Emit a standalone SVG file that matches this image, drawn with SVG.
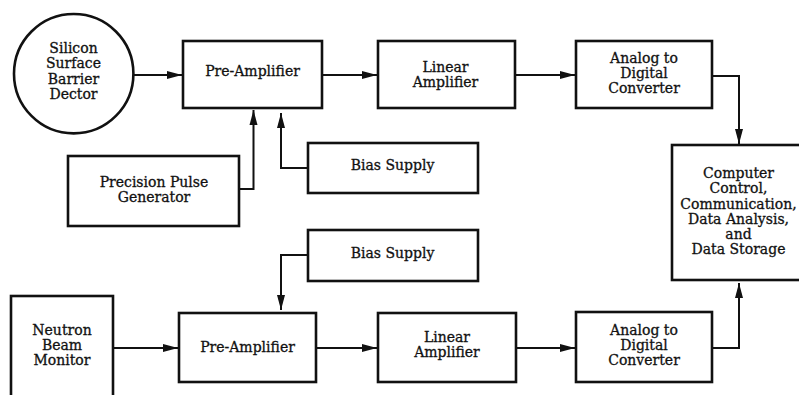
<svg xmlns="http://www.w3.org/2000/svg" width="799" height="395" viewBox="0 0 799 395">
  <defs>
    <style>
      .box { fill: #fff; stroke: #111; stroke-width: 2.6; }
      .wire { fill: none; stroke: #111; stroke-width: 2; }
      .lbl { font-family: "DejaVu Serif", "Liberation Serif", serif; font-size: 14px; fill: #111; stroke: #111; stroke-width: 0.3; text-anchor: middle; }
    </style>
    <marker id="arrow" markerUnits="userSpaceOnUse" markerWidth="16" markerHeight="9" refX="15" refY="4.5" orient="auto">
      <path d="M0,0.5 L15,4.5 L0,8.5 Z" fill="#111"/>
    </marker>
  </defs>
  <rect width="799" height="395" fill="#fff"/>

  <!-- connectors -->
  <g id="connectors">
    <line class="wire" x1="133" y1="75" x2="182" y2="75" marker-end="url(#arrow)"/>
    <line class="wire" x1="322" y1="75" x2="377" y2="75" marker-end="url(#arrow)"/>
    <line class="wire" x1="515" y1="75" x2="575" y2="75" marker-end="url(#arrow)"/>
    <polyline class="wire" points="712,76 739,76 739,144" marker-end="url(#arrow)"/>
    <polyline class="wire" points="239,189 253.5,189 253.5,110" marker-end="url(#arrow)"/>
    <polyline class="wire" points="307,168 281,168 281,113" marker-end="url(#arrow)"/>

    <line class="wire" x1="113" y1="348" x2="178" y2="348" marker-end="url(#arrow)"/>
    <line class="wire" x1="316" y1="348" x2="377" y2="348" marker-end="url(#arrow)"/>
    <line class="wire" x1="516" y1="348" x2="575" y2="348" marker-end="url(#arrow)"/>
    <polyline class="wire" points="307,255 281,255 281,310" marker-end="url(#arrow)"/>
    <polyline class="wire" points="712,348 739,348 739,283" marker-end="url(#arrow)"/>
  </g>

  <!-- upper chain -->
  <g id="detector">
    <circle class="box" cx="73.7" cy="73.7" r="59.7"/>
    <text class="lbl" x="73.5" y="53">Silicon</text>
    <text class="lbl" x="73.5" y="68">Surface</text>
    <text class="lbl" x="73.5" y="83.5">Barrier</text>
    <text class="lbl" x="73.5" y="99">Dector</text>
  </g>
  <g id="preamp-top">
    <rect class="box" x="183" y="41" width="139" height="67"/>
    <text class="lbl" x="252.5" y="76">Pre-Amplifier</text>
  </g>
  <g id="linamp-top">
    <rect class="box" x="378" y="41" width="137" height="67"/>
    <text class="lbl" x="445.5" y="72">Linear</text>
    <text class="lbl" x="445.5" y="87">Amplifier</text>
  </g>
  <g id="adc-top">
    <rect class="box" x="576" y="41" width="136" height="67"/>
    <text class="lbl" x="644" y="63">Analog to</text>
    <text class="lbl" x="644" y="78">Digital</text>
    <text class="lbl" x="644" y="93">Converter</text>
  </g>
  <g id="pulser">
    <rect class="box" x="68" y="156" width="171" height="70"/>
    <text class="lbl" x="154" y="187">Precision Pulse</text>
    <text class="lbl" x="154" y="202">Generator</text>
  </g>
  <g id="bias-top">
    <rect class="box" x="308" y="143" width="170" height="50"/>
    <text class="lbl" x="392.5" y="170">Bias Supply</text>
  </g>

  <!-- computer -->
  <g id="computer">
    <rect class="box" x="672" y="145" width="140" height="135"/>
    <text class="lbl" x="738.5" y="178">Computer</text>
    <text class="lbl" x="738.5" y="193">Control,</text>
    <text class="lbl" x="738.5" y="209">Communication,</text>
    <text class="lbl" x="738.5" y="224">Data Analysis,</text>
    <text class="lbl" x="738.5" y="239">and</text>
    <text class="lbl" x="738.5" y="254">Data Storage</text>
  </g>

  <!-- lower chain -->
  <g id="bias-bottom">
    <rect class="box" x="308" y="230" width="170" height="51"/>
    <text class="lbl" x="392.5" y="258">Bias Supply</text>
  </g>
  <g id="monitor">
    <rect class="box" x="11" y="296" width="102" height="110"/>
    <text class="lbl" x="62" y="335">Neutron</text>
    <text class="lbl" x="62" y="350">Beam</text>
    <text class="lbl" x="62" y="365">Monitor</text>
  </g>
  <g id="preamp-bottom">
    <rect class="box" x="179" y="313" width="137" height="69"/>
    <text class="lbl" x="247.5" y="352">Pre-Amplifier</text>
  </g>
  <g id="linamp-bottom">
    <rect class="box" x="378" y="313" width="138" height="69"/>
    <text class="lbl" x="447" y="342">Linear</text>
    <text class="lbl" x="447" y="357">Amplifier</text>
  </g>
  <g id="adc-bottom">
    <rect class="box" x="576" y="312" width="136" height="70"/>
    <text class="lbl" x="644" y="335">Analog to</text>
    <text class="lbl" x="644" y="350">Digital</text>
    <text class="lbl" x="644" y="365">Converter</text>
  </g>
</svg>
